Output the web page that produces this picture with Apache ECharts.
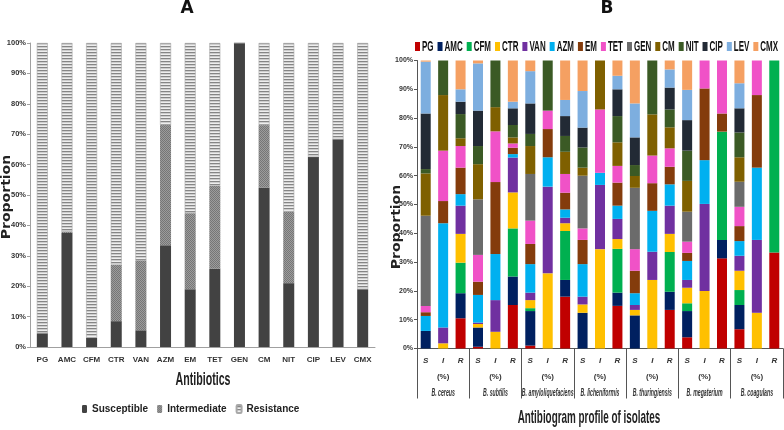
<!DOCTYPE html>
<html><head><meta charset="utf-8">
<script src="https://cdn.jsdelivr.net/npm/echarts@6/dist/echarts.min.js"></script>
<style>html,body{margin:0;padding:0;background:#fff}#c{width:784px;height:430px}</style>
</head><body><div id="c"></div>
<script>
// ---------- Panel A data ----------
const antibioticsA = ['PG','AMC','CFM','CTR','VAN','AZM','EM','TET','GEN','CM','NIT','CIP','LEV','CMX'];
const susceptible  = [4.5, 37.5, 3, 8.5, 5.5, 33.5, 19, 25.8, 100, 52.5, 21, 62.5, 68.3, 19];
const intermediate = [0, 0.5, 0, 18.5, 23, 39.5, 25, 27.2, 0, 20.5, 23.5, 0, 0, 0];
const resistance   = [95.5, 62, 97, 73, 71.5, 27, 56, 47, 0, 27, 55.5, 37.5, 31.7, 81];

// ---------- Panel B data ----------
const profileLevels = ['S','I','R','S','I','R','S','I','R','S','I','R','S','I','R','S','I','R','S','I','R'];
const species = ['B. cereus','B. subtilis','B. amyloliquefaciens','B. licheniformis','B. thuringiensis','B. megaterium','B. coagulans'];
const antibioticsB = ['PG','AMC','CFM','CTR','VAN','AZM','EM','TET','GEN','CM','NIT','CIP','LEV','CMX'];
const PG  = [0, 0, 10.5, 0.6, 0, 15.1, 1, 0, 18, 0, 0, 14.8, 0, 0, 13.4, 3.9, 0, 31.3, 6.7, 0, 33.3];
const AMC = [6.1, 0, 8.7, 6.7, 0, 9.9, 12, 0, 5.8, 12.4, 0, 4.6, 11.5, 0, 6.3, 9.1, 0, 6.4, 8.4, 0, 0];
const CFM = [0, 0, 10.6, 0, 0, 16.7, 1, 0, 17, 0, 0, 15.2, 0, 0, 13.8, 2.7, 0, 37.6, 5.2, 0, 66.7];
const CTR = [0, 1.8, 10, 1.2, 5.8, 12.5, 2.8, 26.1, 2.7, 2.9, 34.5, 3.4, 1.9, 23.8, 6.3, 5.4, 20, 0, 6.7, 12.4, 0];
const VAN = [0, 5.5, 9.8, 0.5, 11, 12.1, 2.6, 30.1, 1.9, 2.7, 22.3, 7, 1.7, 9.8, 9.8, 2.7, 30.2, 0, 5.2, 25.3, 0];
const AZM = [5.2, 36.2, 4, 9.6, 16, 1.2, 9.9, 10.2, 2.9, 11.3, 4.2, 4.6, 4.1, 14.2, 7.4, 6.6, 15.2, 0, 5.1, 25.1, 0];
const EM  = [1.3, 7.7, 9.2, 4.6, 25, 2.2, 7, 9.8, 5.8, 8.4, 0, 8, 7.8, 9.6, 6.1, 2.8, 24.9, 6.3, 5.2, 25.2, 0];
const TET = [2.2, 17.5, 7.5, 9.3, 17.6, 1.5, 8.1, 6.4, 6.5, 4, 22, 5.8, 7.5, 9.6, 6.4, 3.9, 9.7, 18.4, 6.7, 12, 0];
const GEN = [31.3, 0, 0, 19.3, 0, 0, 16.2, 0, 0, 18.3, 0, 0, 21.3, 0, 0, 10.4, 0, 0, 8.7, 0, 0];
const CM  = [14.7, 19.3, 2.7, 12.2, 8.4, 2.1, 9.7, 0, 7.7, 2.8, 17, 8.2, 4.1, 14.3, 7.3, 10.7, 0, 0, 8.5, 0, 0];
const NIT = [1.5, 12, 8.4, 6.3, 16.3, 4.3, 4.2, 17.4, 5.5, 7, 0, 9.1, 3.8, 18.7, 6.2, 10.5, 0, 0, 8.6, 0, 0];
const CIP = [19.3, 0, 4.3, 12.3, 0, 5.8, 10.6, 0, 6.9, 6.9, 0, 9.3, 9.6, 0, 7.6, 10.6, 0, 0, 8.4, 0, 0];
const LEV = [18, 0, 4.3, 16.4, 0, 2.3, 11.2, 0, 5.6, 12.7, 0, 4.7, 11.8, 0, 6.3, 10.5, 0, 0, 8.7, 0, 0];
const CMX = [0.4, 0, 10, 1, 0, 14.3, 3.7, 0, 13.7, 10.6, 0, 5.3, 14.9, 0, 3.1, 10.2, 0, 0, 7.9, 0, 0];

const seriesValuesB = [PG, AMC, CFM, CTR, VAN, AZM, EM, TET, GEN, CM, NIT, CIP, LEV, CMX];
const colorsB = ['#C00000','#002060','#00B050','#FFC000','#7030A0','#00B0F0','#843C0C','#F052C7','#6B6B6B','#7F6000','#3B5A25','#222A35','#7DAEDF','#F5A062'];

// ---------- styling helpers ----------
const SANS = "'Liberation Sans', Arial, sans-serif";
function makePattern(w, h, draw) {
  const c = document.createElement('canvas'); c.width = w; c.height = h;
  draw(c.getContext('2d')); return c;
}
const patInter = makePattern(2, 2, g => {
  g.fillStyle = '#9c9c9c'; g.fillRect(0,0,2,2);
  g.fillStyle = '#767676'; g.fillRect(0,0,1,1); g.fillRect(1,1,1,1);
});
const patRes = makePattern(3, 3, g => {
  g.fillStyle = '#eeeeee'; g.fillRect(0,0,3,1);
  g.fillStyle = '#858585'; g.fillRect(0,1,3,1);
  g.fillStyle = '#cdcdcd'; g.fillRect(0,2,3,1);
});

const chart = echarts.init(document.getElementById('c'));
const axisGrayA = '#a0a0a0';
const axisB = '#555555';

const seriesB = antibioticsB.map((n, i) => ({
  name: n, type: 'bar', stack: 'B', xAxisIndex: 1, yAxisIndex: 1,
  barWidth: 10, data: seriesValuesB[i], itemStyle: { color: colorsB[i] },
  emphasis: { disabled: true }
}));

const option = {
  animation: false,
  backgroundColor: '#ffffff',
  grid: [
    { left: 30, top: 43, width: 345, height: 304 },
    { left: 417, top: 60.5, width: 366, height: 288 }
  ],
  legend: [
    { data: ['Susceptible','Intermediate','Resistance'], left: 82, top: 404, itemWidth: 5, itemHeight: 8, itemGap: 9, padding: 0,
      textStyle: { fontFamily: SANS, fontWeight: 'bold', fontSize: 10, color: '#222' } }
  ],
  xAxis: [
    { type: 'category', gridIndex: 0, data: antibioticsA,
      axisLine: { lineStyle: { color: axisGrayA } }, axisTick: { show: false },
      axisLabel: { interval: 0, margin: 9, fontFamily: SANS, fontWeight: 'bold', fontSize: 8, color: '#333' } },
    { type: 'category', gridIndex: 1, data: profileLevels,
      axisLine: { lineStyle: { color: axisB } }, axisTick: { show: false },
      axisLabel: { interval: 0, margin: 8, fontFamily: SANS, fontStyle: 'italic', fontWeight: 'bold', fontSize: 8, color: '#333' } },
    { type: 'category', gridIndex: 1, data: species, position: 'bottom',
      axisLine: { show: false },
      axisTick: { show: true, interval: 0, length: 50, lineStyle: { color: axisB } },
      axisLabel: { interval: 0, margin: 24, fontFamily: SANS, fontSize: 8, fontWeight: 'bold', color: '#333',
        formatter: () => '(%)' } }
  ],
  yAxis: [
    { type: 'value', gridIndex: 0, min: 0, max: 100, interval: 10,
      axisLine: { show: true, lineStyle: { color: axisGrayA } }, axisTick: { show: true, length: 3, lineStyle: { color: axisGrayA } },
      splitLine: { show: false },
      axisLabel: { margin: 4, formatter: '{value}%', fontFamily: SANS, fontWeight: 'bold', fontSize: 7.5, color: '#333' } },
    { type: 'value', gridIndex: 1, min: 0, max: 100, interval: 10,
      axisLine: { show: true, lineStyle: { color: axisB } }, axisTick: { show: true, length: 3, lineStyle: { color: axisB } },
      splitLine: { show: false },
      axisLabel: { margin: 4, formatter: '{value}%', fontFamily: SANS, fontWeight: 'bold', fontSize: 7, color: '#333' } }
  ],
  series: [
    { name: 'Susceptible', type: 'bar', stack: 'A', xAxisIndex: 0, yAxisIndex: 0, barWidth: 11, data: susceptible,
      itemStyle: { color: '#424242' }, emphasis: { disabled: true } },
    { name: 'Intermediate', type: 'bar', stack: 'A', xAxisIndex: 0, yAxisIndex: 0, barWidth: 11, data: intermediate,
      itemStyle: { color: { image: patInter, repeat: 'repeat' } }, emphasis: { disabled: true } },
    { name: 'Resistance', type: 'bar', stack: 'A', xAxisIndex: 0, yAxisIndex: 0, barWidth: 11, data: resistance,
      itemStyle: { color: { image: patRes, repeat: 'repeat' }, borderColor: '#a8a8a8', borderWidth: 0.6 }, emphasis: { disabled: true } }
  ].concat(seriesB)
};
chart.setOption(option);

// ---------- texts (condensed look via scaleX) ----------
const graphics = [
  { type: 'text', x: 187, y: 9, style: { text: 'A', font: "bold 17px 'DejaVu Sans'", fill: '#111', align: 'center', verticalAlign: 'middle' } },
  { type: 'text', x: 607, y: 9, style: { text: 'B', font: "bold 17px 'DejaVu Sans'", fill: '#111', align: 'center', verticalAlign: 'middle' } },
  { type: 'text', x: 7, y: 197, rotation: Math.PI / 2, scaleY: 0.85, style: { text: 'Proportion', font: "bold 14px 'DejaVu Sans'", fill: '#222', align: 'center', verticalAlign: 'middle' } },
  { type: 'text', x: 397, y: 227, rotation: Math.PI / 2, scaleY: 0.85, style: { text: 'Proportion', font: "bold 14px 'DejaVu Sans'", fill: '#222', align: 'center', verticalAlign: 'middle' } },
  { type: 'text', x: 203, y: 380, scaleX: 0.56, style: { text: 'Antibiotics', font: "bold 19px " + SANS, fill: '#222', align: 'center', verticalAlign: 'middle' } },
  { type: 'text', x: 589, y: 418, scaleX: 0.52, style: { text: 'Antibiogram profile of isolates', font: "bold 19px " + SANS, fill: '#222', align: 'center', verticalAlign: 'middle' } }
];
// species names under the B axis, centred on the species categories
species.forEach(s => {
  const px = chart.convertToPixel({ xAxisIndex: 2 }, s);
  graphics.push({ type: 'text', x: px, y: 393.5, scaleX: 0.52,
    style: { text: s, font: "italic bold 10px " + SANS, fill: '#333', align: 'center', verticalAlign: 'middle' } });
});
// colour key for panel B (single condensed row)
const mctx = document.createElement('canvas').getContext('2d');
const LFONT = "bold 14px " + SANS;
mctx.font = LFONT;
const LSX = 0.57;
let lx = 415;
antibioticsB.forEach((n, i) => {
  graphics.push({ type: 'rect', shape: { x: lx, y: 42, width: 5, height: 9 }, style: { fill: colorsB[i] } });
  graphics.push({ type: 'text', x: lx + 7, y: 47, scaleX: LSX, style: { text: n, font: LFONT, fill: '#111', verticalAlign: 'middle' } });
  lx += 7 + mctx.measureText(n).width * LSX + 4;
});
chart.setOption({ graphic: graphics });
</script></body></html>
